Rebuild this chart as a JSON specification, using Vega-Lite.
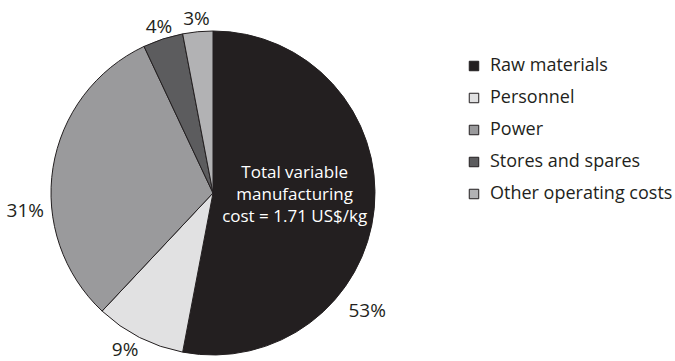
{
  "$schema": "https://vega.github.io/schema/vega-lite/v6.json",
  "width": 426,
  "height": 336,
  "autosize": "none",
  "padding": {"top": 25, "left": 0, "right": 249, "bottom": 0},
  "background": "white",
  "config": {"view": {"stroke": null}, "font": "Open Sans"},
  "data": {
    "values": [
      {"item": "Raw materials", "share": 0.53},
      {"item": "Personnel", "share": 0.09},
      {"item": "Power", "share": 0.31},
      {"item": "Stores and spares", "share": 0.04},
      {"item": "Other operating costs", "share": 0.03}
    ]
  },
  "transform": [{"window": [{"op": "row_number", "as": "slot"}]}],
  "encoding": {
    "theta": {"field": "share", "type": "quantitative", "stack": true},
    "order": {"field": "slot", "type": "quantitative"}
  },
  "layer": [
    {
      "mark": {"type": "arc", "radius": 162, "stroke": "#231f20", "strokeWidth": 1},
      "encoding": {
        "color": {
          "field": "item",
          "type": "nominal",
          "scale": {
            "domain": ["Raw materials", "Personnel", "Power", "Stores and spares", "Other operating costs"],
            "range": ["#231f20", "#e1e1e2", "#9a9a9c", "#5c5c5e", "#b2b2b4"]
          },
          "legend": {
            "orient": "none",
            "legendX": 465,
            "legendY": 32,
            "title": null,
            "padding": 0,
            "symbolType": "square",
            "symbolSize": 90,
            "symbolStrokeColor": "#231f20",
            "symbolStrokeWidth": 1,
            "symbolOpacity": 1,
            "labelFont": "Open Sans",
            "labelFontSize": 18,
            "labelColor": "#231f20",
            "labelOffset": 7,
            "labelLimit": 300,
            "rowPadding": 14
          }
        }
      }
    },
    {
      "mark": {"type": "text", "radius": 175, "fontSize": 19, "fill": "#231f20"},
      "encoding": {
        "text": {"field": "share", "type": "quantitative", "format": ".0%"},
        "opacity": {"condition": {"test": "datum.item === 'Stores and spares' || datum.item === 'Other operating costs'", "value": 1}, "value": 0}
      }
    },
    {
      "mark": {"type": "text", "radius": 176, "dx": -8, "fontSize": 19, "fill": "#231f20"},
      "encoding": {
        "text": {"field": "share", "type": "quantitative", "format": ".0%"},
        "opacity": {"condition": {"test": "datum.item === 'Personnel'", "value": 1}, "value": 0}
      }
    },
    {
      "mark": {"type": "text", "radius": 194, "dx": -39, "dy": 100, "fontSize": 19, "fill": "#231f20"},
      "encoding": {
        "text": {"field": "share", "type": "quantitative", "format": ".0%"},
        "opacity": {"condition": {"test": "datum.item === 'Raw materials'", "value": 1}, "value": 0}
      }
    },
    {
      "mark": {"type": "text", "radius": 189, "dx": -1, "dy": 48, "fontSize": 19, "fill": "#231f20"},
      "encoding": {
        "text": {"field": "share", "type": "quantitative", "format": ".0%"},
        "opacity": {"condition": {"test": "datum.item === 'Power'", "value": 1}, "value": 0}
      }
    },
    {
      "mark": {
        "type": "text",
        "radius": 82,
        "dy": -28,
        "fontSize": 17,
        "lineHeight": 22,
        "fill": "white",
        "text": ["Total variable", "manufacturing", "cost = 1.71 US$/kg"]
      },
      "encoding": {
        "opacity": {"condition": {"test": "datum.item === 'Raw materials'", "value": 1}, "value": 0}
      }
    }
  ]
}
